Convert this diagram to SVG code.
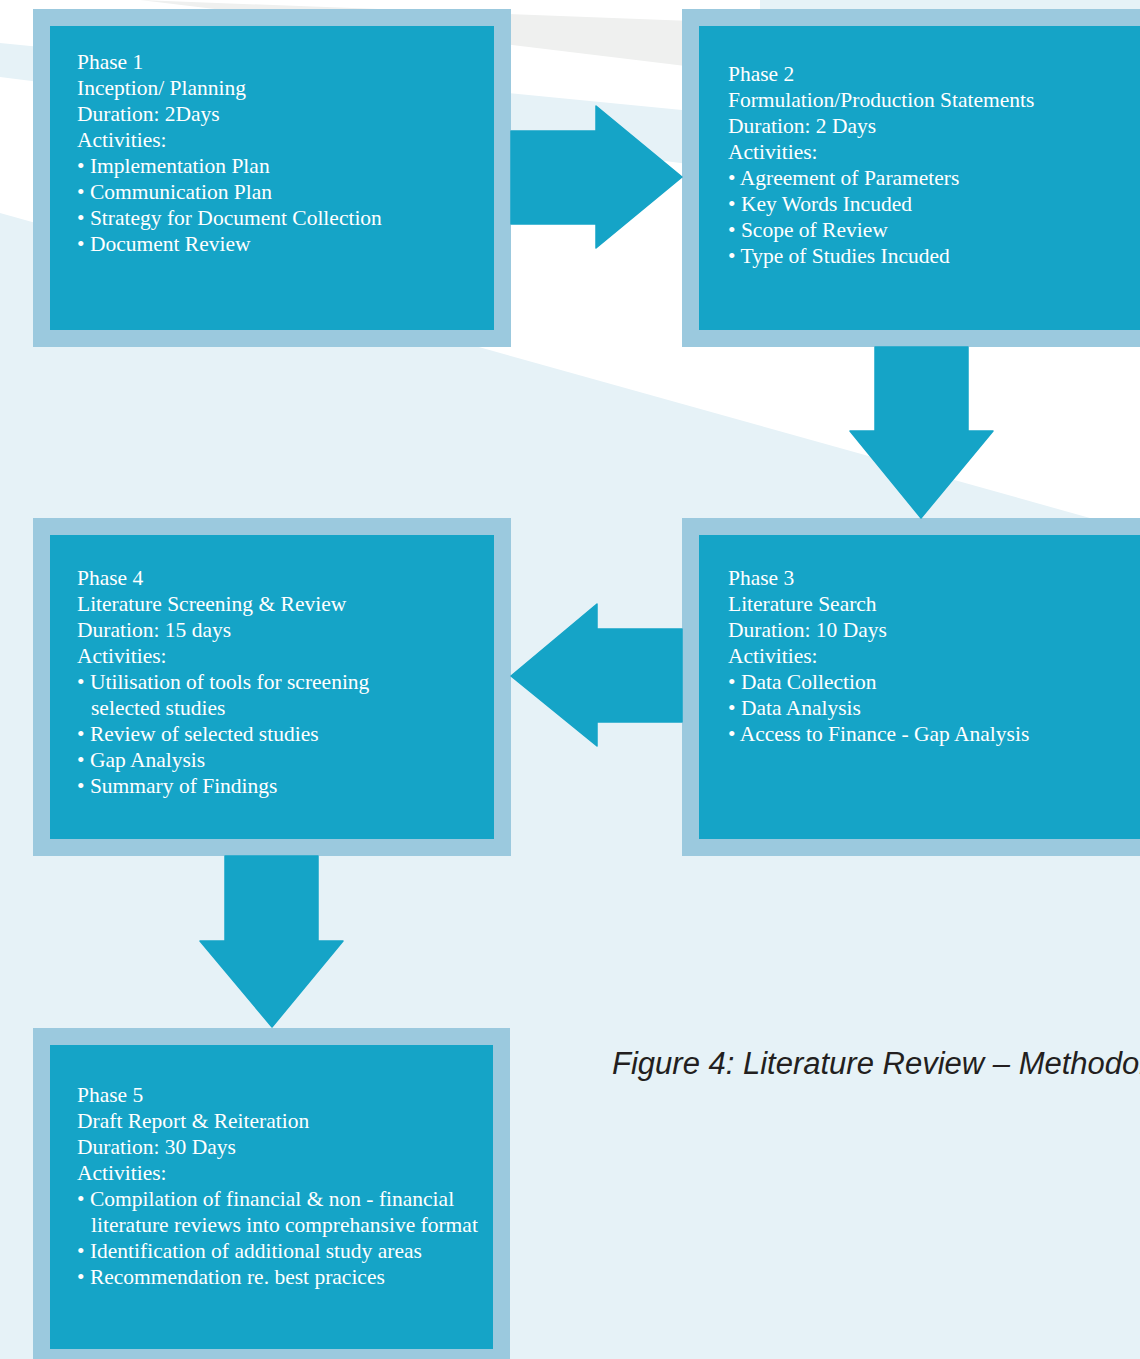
<svg xmlns="http://www.w3.org/2000/svg" width="1140" height="1359" viewBox="0 0 1140 1359">
<style>
.outer{fill:#9bc9de}
.inner{fill:#15a4c7}
.arrow{fill:#15a4c7;stroke:#15a4c7;stroke-width:1.5;stroke-linejoin:round}
.t{font-family:"Liberation Serif","Times New Roman",serif;font-size:21.5px;fill:#ffffff}
.cap{font-family:"Liberation Sans",Arial,sans-serif;font-size:31px;font-style:italic;fill:#231f20}
</style>
<g id="background">
<rect x="0" y="0" width="1140" height="1359" fill="#ffffff"/>
<polygon points="140,0 1140,38 1140,121" fill="#eff0ef"/>
<polygon points="760,0 1140,0 1140,10 760,10" fill="#e6f2f7"/>
<polygon points="0,43 1140,155 1140,221 0,77" fill="#e6f2f7"/>
<polygon points="0,213 1140,532 1140,1359 0,1359" fill="#e6f2f7"/>
</g>
<g id="phase1">
<rect class="outer" x="33" y="9" width="478" height="338"/>
<rect class="inner" x="50" y="26" width="444" height="304"/>
<text class="t" x="77" y="69">Phase 1</text>
<text class="t" x="77" y="95">Inception/ Planning</text>
<text class="t" x="77" y="121">Duration: 2Days</text>
<text class="t" x="77" y="147">Activities:</text>
<text class="t" x="77" y="173">• Implementation Plan</text>
<text class="t" x="77" y="199">• Communication Plan</text>
<text class="t" x="77" y="225">• Strategy for Document Collection</text>
<text class="t" x="77" y="251">• Document Review</text>
</g>
<g id="phase2">
<rect class="outer" x="682" y="9" width="470" height="338"/>
<rect class="inner" x="699" y="26" width="460" height="304"/>
<text class="t" x="728" y="81">Phase 2</text>
<text class="t" x="728" y="107">Formulation/Production Statements</text>
<text class="t" x="728" y="133">Duration: 2 Days</text>
<text class="t" x="728" y="159">Activities:</text>
<text class="t" x="728" y="185">• Agreement of Parameters</text>
<text class="t" x="728" y="211">• Key Words Incuded</text>
<text class="t" x="728" y="237">• Scope of Review</text>
<text class="t" x="728" y="263">• Type of Studies Incuded</text>
</g>
<g id="phase3">
<rect class="outer" x="682" y="518" width="470" height="338"/>
<rect class="inner" x="699" y="535" width="460" height="304"/>
<text class="t" x="728" y="585">Phase 3</text>
<text class="t" x="728" y="611">Literature Search</text>
<text class="t" x="728" y="637">Duration: 10 Days</text>
<text class="t" x="728" y="663">Activities:</text>
<text class="t" x="728" y="689">• Data Collection</text>
<text class="t" x="728" y="715">• Data Analysis</text>
<text class="t" x="728" y="741">• Access to Finance - Gap Analysis</text>
</g>
<g id="phase4">
<rect class="outer" x="33" y="518" width="478" height="338"/>
<rect class="inner" x="50" y="535" width="444" height="304"/>
<text class="t" x="77" y="585">Phase 4</text>
<text class="t" x="77" y="611">Literature Screening &amp; Review</text>
<text class="t" x="77" y="637">Duration: 15 days</text>
<text class="t" x="77" y="663">Activities:</text>
<text class="t" x="77" y="689">• Utilisation of tools for screening</text>
<text class="t" x="91" y="715">selected studies</text>
<text class="t" x="77" y="741">• Review of selected studies</text>
<text class="t" x="77" y="767">• Gap Analysis</text>
<text class="t" x="77" y="793">• Summary of Findings</text>
</g>
<g id="phase5">
<rect class="outer" x="33" y="1028" width="477" height="340"/>
<rect class="inner" x="50" y="1045" width="443" height="304"/>
<text class="t" x="77" y="1102">Phase 5</text>
<text class="t" x="77" y="1128">Draft Report &amp; Reiteration</text>
<text class="t" x="77" y="1154">Duration: 30 Days</text>
<text class="t" x="77" y="1180">Activities:</text>
<text class="t" x="77" y="1206">• Compilation of financial &amp; non - financial</text>
<text class="t" x="91" y="1232">literature reviews into comprehansive format</text>
<text class="t" x="77" y="1258">• Identification of additional study areas</text>
<text class="t" x="77" y="1284">• Recommendation re. best pracices</text>
</g>
<g id="connectors">
<polygon class="arrow" points="511,131 596,131 596,106 682,177 596,248 596,224 511,224"/>
<polygon class="arrow" points="875,347 968,347 968,431 993,431 921,518 850,431 875,431"/>
<polygon class="arrow" points="682,629 597,629 597,604 511,676 597,746 597,722 682,722"/>
<polygon class="arrow" points="225,856 318,856 318,941 343,941 272,1027 200,941 225,941"/>
</g>
<g id="caption">
<text class="cap" x="612" y="1074">Figure 4: Literature Review – Methodology</text>
</g>
</svg>
